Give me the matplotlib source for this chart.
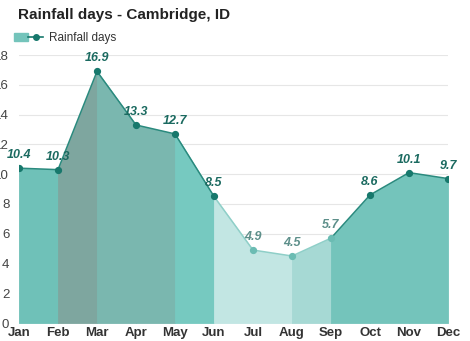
import matplotlib.pyplot as plt
import matplotlib.lines as mlines
import matplotlib.patches as mpatches
from matplotlib.legend_handler import HandlerTuple

plt.rcParams['font.family'] = ['Liberation Sans', 'DejaVu Sans']

months = ["Jan", "Feb", "Mar", "Apr", "May", "Jun", "Jul", "Aug", "Sep", "Oct", "Nov", "Dec"]
rain_days = [10.4, 10.3, 16.9, 13.3, 12.7, 8.5, 4.9, 4.5, 5.7, 8.6, 10.1, 9.7]
y_ticks = [0, 2, 4, 6, 8, 10, 12, 14, 16, 18]

# shade of each month-to-month band
seg_colors = ["#6fc1b8", "#7ea69f", "#7ab7af", "#7ab7af", "#76c9c0", "#c2e6e3",
              "#c2e6e3", "#a6d9d4", "#74c4bb", "#74c4bb", "#74c4bb"]
dark = "#17786c"

fig = plt.figure(figsize=(4.7, 3.41), dpi=100)
fig.patch.set_facecolor("white")
ax = fig.add_axes([19 / 470, 18 / 341, 429 / 470, 268 / 341])

x = list(range(len(months)))
for i in range(len(months) - 1):
    ax.fill_between(x[i:i + 2], rain_days[i:i + 2], 0, facecolor=seg_colors[i],
                    edgecolor=seg_colors[i], lw=0.6, zorder=1)

for i in range(len(months) - 1):
    c = "#8fcfc8" if 5 <= i <= 7 else "#2a8a7e"
    ax.plot(x[i:i + 2], rain_days[i:i + 2], color=c, lw=1.1, zorder=3)

for i, v in enumerate(rain_days):
    light_pt = months[i] in ("Jul", "Aug", "Sep")
    mc = "#6bbcb3" if light_pt else dark
    ax.plot(i, v, "o", ms=4.2, color=mc, zorder=4)
    tc = "#5d8f8a" if light_pt else "#1b6a60"
    ax.annotate(f"{v}", (i, v), xytext=(0, 5), textcoords="offset points",
                ha="center", va="bottom", fontsize=9, fontweight="bold",
                fontstyle="italic", color=tc, zorder=5)

ax.set_xlim(0, 11)
ax.set_ylim(0, 18)
ax.set_yticks(y_ticks)
ax.set_yticklabels([str(t) for t in y_ticks], fontsize=9.5, color="#444444")
ax.set_xticks(x)
ax.set_xticklabels(months, fontsize=9.5, fontweight="bold", color="#333333")
ax.tick_params(axis="both", length=0)
ax.tick_params(axis="y", pad=7)
ax.tick_params(axis="x", pad=3)
ax.grid(axis="y", color="#e6e6e6", lw=0.8, zorder=0)
ax.set_axisbelow(True)
for s in ax.spines.values():
    s.set_visible(False)

fig.text(18 / 470, 1 - 15 / 341, "Rainfall days - Cambridge, ID", fontsize=11,
         fontweight="bold", color="#222222", va="center")

# legend swatch
handle = (mpatches.Patch(color="#74c4bb"),
          mlines.Line2D([], [], color=dark, marker="o", ms=4, lw=1.2))
fig.legend([handle], ["Rainfall days"], loc="center left",
           bbox_to_anchor=(3 / 470, 1 - 38 / 341), frameon=False, fontsize=8.5,
           handler_map={tuple: HandlerTuple(ndivide=None, pad=0)},
           handlelength=2.5, handletextpad=0.5, labelcolor="#333333")

fig.savefig("out.png", dpi=100)
